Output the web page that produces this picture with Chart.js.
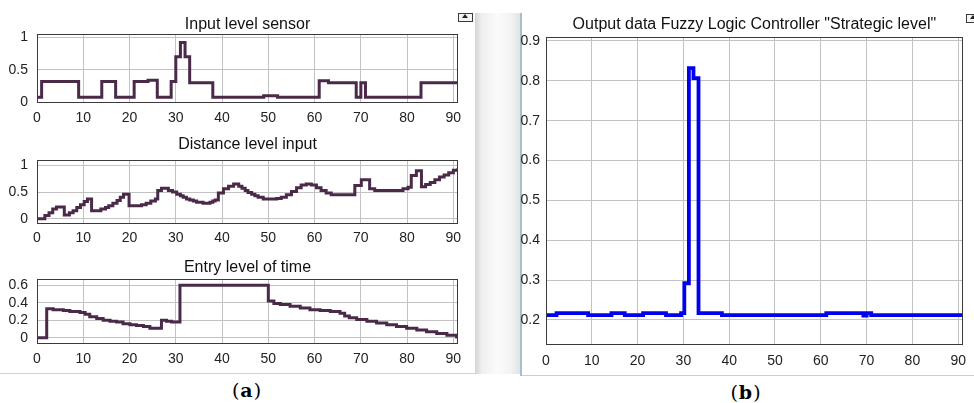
<!DOCTYPE html>
<html><head><meta charset="utf-8">
<script src="https://cdn.jsdelivr.net/npm/chart.js@4.4.0/dist/chart.umd.min.js"></script>
<style>
html,body{margin:0;padding:0;background:#fff;}
#page{position:relative;width:974px;height:403px;overflow:hidden;background:#fff;}
canvas{position:absolute;}
#strip{position:absolute;left:475px;top:13px;width:45px;height:361px;background:linear-gradient(to right,#d4d4d4 0%,#efefef 15%,#fbfbfb 50%,#f3f3f3 80%,#e2e2e2 100%);}
#sline{position:absolute;left:520px;top:13px;width:2px;height:363px;background:#a6bfd0;}
#lbot{position:absolute;left:0;top:373px;width:475px;height:1px;background:#d2d2d2;}
#rbot{position:absolute;left:522px;top:375px;width:452px;height:1px;background:#cdcdcd;}
.icon{position:absolute;width:13px;height:7px;border:1px solid #3a3a3a;background:#f4f4f4;}
.icon:after{content:"";position:absolute;left:3px;top:0px;border-left:3px solid transparent;border-right:3px solid transparent;border-bottom:4px solid #222;}
.lab{position:absolute;font-family:"DejaVu Serif","Liberation Serif",serif;font-size:19px;color:#000;letter-spacing:1px;transform:translate(-50%,-50%);white-space:nowrap;}
</style></head><body>
<div id="page">
  <div id="strip"></div><div id="sline"></div><div id="lbot"></div><div id="rbot"></div>
  <div class="icon" style="left:458px;top:13px;"></div>
  <div class="icon" style="left:966px;top:14px;"></div>
  <canvas id="c1" width="470" height="128" style="left:0;top:0;"></canvas>
  <canvas id="c2" width="470" height="122" style="left:0;top:128px;"></canvas>
  <canvas id="c3" width="470" height="120" style="left:0;top:250px;"></canvas>
  <canvas id="c4" width="474" height="372" style="left:500px;top:0;"></canvas>
  <div class="lab" style="left:247px;top:390px;">(<b>a</b>)</div>
  <div class="lab" style="left:746px;top:392px;">(<b>b</b>)</div>
</div>
<script>
// ---- data ----
const timeTicks = [0, 10, 20, 30, 40, 50, 60, 70, 80, 90];

const sensorTitle = 'Input level sensor';
const sensorT = [0, 1, 9, 14, 17, 21, 24, 26, 29, 30, 31, 32, 33, 38, 49, 52, 61, 63, 69, 70, 71, 83, 91];
const sensorV = [0.08, 0.32, 0.08, 0.32, 0.08, 0.32, 0.34, 0.08, 0.32, 0.70, 0.92, 0.70, 0.30, 0.08, 0.10, 0.08, 0.33, 0.30, 0.08, 0.30, 0.08, 0.30, 0.30];
const sensorYTicks = [0, 0.5, 1];

const distTitle = 'Distance level input';
const distT = [0, 1.7, 2.6, 3.4, 4.2, 5.9, 7.0, 7.8, 8.6, 9.4, 10.2, 10.9, 11.8, 13.8, 14.8, 15.5, 16.4, 17.3, 18.0, 18.7, 19.9,
  22.6, 23.6, 24.6, 25.6, 26.1, 26.9, 28.4, 29.3, 30.2, 31.0, 31.6, 32.3, 33.0, 33.8, 34.5, 35.9, 37.4, 38.0, 38.5, 39.2,
  40.3, 41.4, 42.5, 43.6, 44.3, 45.0, 45.6, 46.4, 47.1, 47.8, 48.9, 51.8, 52.8, 53.9, 55.0, 56.1, 57.1, 58.2, 59.3, 60.4,
  61.4, 62.5, 63.6, 68.7, 70.1, 71.9, 73.0, 79.1, 80.2, 80.9, 82.0, 83.1, 84, 85, 86, 87, 88, 89, 90, 91];
const distV = [0, 0.06, 0.11, 0.18, 0.22, 0.07, 0.11, 0.15, 0.21, 0.26, 0.32, 0.37, 0.15, 0.18, 0.21, 0.24, 0.29, 0.34, 0.40, 0.46, 0.24,
  0.26, 0.29, 0.33, 0.37, 0.53, 0.57, 0.53, 0.50, 0.46, 0.43, 0.40, 0.37, 0.35, 0.33, 0.31, 0.29, 0.31, 0.33, 0.35, 0.48,
  0.56, 0.61, 0.65, 0.61, 0.57, 0.53, 0.49, 0.46, 0.43, 0.40, 0.37, 0.38, 0.40, 0.45, 0.51, 0.58, 0.63, 0.65, 0.63, 0.58,
  0.53, 0.48, 0.45, 0.62, 0.73, 0.56, 0.53, 0.56, 0.59, 0.81, 0.90, 0.60, 0.64, 0.68, 0.73, 0.78, 0.82, 0.86, 0.91, 0.95];
const distYTicks = [0, 0.5, 1];

const entryTitle = 'Entry level of time';
const entryT = [0, 2.1, 3.5, 5.7, 7.1, 9.3, 10.4, 11.4, 12.9, 14.3, 15.8, 17.2, 18.6, 20.1, 21.5, 23.0, 24.4, 26.9, 28.0, 29.1, 30.9,
  50.0, 51.2, 52.6, 54.7, 56.9, 59.0, 61.2, 63.4, 65.5, 66.5, 67.5, 69.1, 71.3, 73.4, 75.6, 77.7, 79.9, 82.1, 84.2, 86.4, 88.6, 90.7, 91];
const entryV = [0, 0.33, 0.32, 0.31, 0.30, 0.29, 0.27, 0.24, 0.22, 0.20, 0.19, 0.18, 0.16, 0.15, 0.14, 0.13, 0.11, 0.20, 0.19, 0.18, 0.60,
  0.42, 0.39, 0.38, 0.36, 0.34, 0.32, 0.31, 0.30, 0.28, 0.25, 0.23, 0.21, 0.19, 0.17, 0.15, 0.13, 0.11, 0.09, 0.07, 0.05, 0.03, 0.01, 0.01];
const entryYTicks = [0, 0.2, 0.4, 0.6];

const outTitle = 'Output data Fuzzy Logic Controller "Strategic level"';
const outT = [0, 2.3, 9.2, 14.3, 17.2, 21.2, 26.2, 29.5, 30.2, 31.2, 32.2, 33.3, 38.4, 61.2, 69.3, 70.0, 71.0, 91];
const outV = [0.212, 0.217, 0.212, 0.217, 0.212, 0.217, 0.212, 0.217, 0.292, 0.832, 0.807, 0.217, 0.212, 0.217, 0.211, 0.217, 0.212, 0.212];
const outYTicks = [0.2, 0.3, 0.4, 0.5, 0.6, 0.7, 0.8, 0.9];

// ---- style ----
const FONT = '"Liberation Sans", Arial, Helvetica, sans-serif';
const GRID = '#c2c2c2';
const TICK = '#222222';
const FRAME = '#3a3a3a';

const framePlugin = {
  id: 'frame',
  afterDraw(chart) {
    const a = chart.chartArea, c = chart.ctx;
    c.save();
    c.strokeStyle = FRAME; c.lineWidth = 1;
    c.strokeRect(Math.round(a.left) + 0.5, Math.round(a.top) + 0.5, Math.round(a.right - a.left) - 1, Math.round(a.bottom - a.top) - 1);
    c.restore();
  }
};

function makeChart(id, title, T, V, yTicks, yMin, yMax, color, lw, g) {
  const ctx = document.getElementById(id).getContext('2d');
  return new Chart(ctx, {
    type: 'line',
    data: { datasets: [{ data: T.map((t, i) => ({ x: t, y: V[i] })), stepped: true, borderColor: color,
      borderWidth: lw, pointRadius: 0, fill: false, tension: 0, borderJoinStyle: 'miter' }] },
    options: {
      responsive: false, animation: false, devicePixelRatio: 1,
      layout: { padding: g.pad },
      plugins: {
        legend: { display: false }, tooltip: { enabled: false },
        title: { display: true, text: title, fullSize: false, color: '#111',
          font: { family: FONT, size: 16, weight: 'normal' }, padding: { top: g.tt, bottom: g.tb } }
      },
      scales: {
        x: { type: 'linear', min: 0, max: 91,
          afterBuildTicks: s => { s.ticks = timeTicks.map(v => ({ value: v })); },
          afterFit: s => { s.height = g.xh; },
          grid: { color: GRID, drawTicks: false, lineWidth: 1 }, border: { display: false },
          ticks: { padding: g.xp, color: TICK, font: { family: FONT, size: 14 }, maxRotation: 0, autoSkip: false, callback: v => String(v) } },
        y: { type: 'linear', min: yMin, max: yMax,
          afterBuildTicks: s => { s.ticks = yTicks.map(v => ({ value: v })); },
          afterFit: s => { s.width = g.yw; },
          grid: { color: GRID, drawTicks: false, lineWidth: 1 }, border: { display: false },
          ticks: { padding: g.yp, color: TICK, font: { family: FONT, size: 14 }, autoSkip: false, callback: v => String(v) } }
      }
    },
    plugins: [framePlugin]
  });
}

const PURPLE = '#4a2a48';
makeChart('c1', sensorTitle, sensorT, sensorV, sensorYTicks, -0.01, 1.05, PURPLE, 3,
  { pad: { left: 0, right: 12, top: 0, bottom: 1 }, tt: 14.7, tb: 0.1, xh: 24, yw: 37, xp: 6.3, yp: 9 });
makeChart('c2', distTitle, distT, distV, distYTicks, -0.1, 1.1, PURPLE, 3,
  { pad: { left: 0, right: 12, top: 0, bottom: 2 }, tt: 6.7, tb: 6.1, xh: 24, yw: 37, xp: 5.9, yp: 9 });
makeChart('c3', entryTitle, entryT, entryV, entryYTicks, -0.07, 0.67, PURPLE, 3,
  { pad: { left: 0, right: 12, top: 0, bottom: 2 }, tt: 7.7, tb: 2.1, xh: 24, yw: 37, xp: 6.4, yp: 9 });
makeChart('c4', outTitle, outT, outV, outYTicks, 0.137, 0.91, '#0000f0', 3.8,
  { pad: { left: 0, right: 9, top: 0, bottom: 3 }, tt: 15.1, tb: 2.7, xh: 24, yw: 46, xp: 7.9, yp: 6 });
</script>
</body></html>
